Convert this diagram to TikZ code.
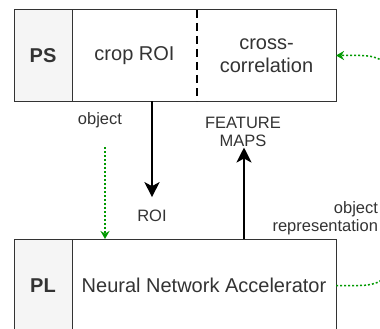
\documentclass[tikz,border=0pt]{standalone}
\usepackage{fontspec}
\setmainfont{Liberation Sans}
\usetikzlibrary{arrows.meta,positioning,calc}
\definecolor{sidecolor}{RGB}{245,245,245}
\definecolor{textcolor}{RGB}{51,51,51}
\definecolor{flowcolor}{RGB}{0,153,0}

\begin{document}
\begin{tikzpicture}[
    x=1pt, y=-1pt,
    every node/.style={text=textcolor, inner sep=1pt, outer sep=0pt},
    side/.style={rectangle, fill=sidecolor, draw=black!80, line width=1pt, minimum width=58pt, minimum height=91pt, font=\fontsize{20}{23}\selectfont\bfseries},
    cell/.style={rectangle, minimum height=91pt, align=center, font=\fontsize{20}{23}\selectfont},
    tag/.style={align=center, font=\fontsize{16.5}{17.5}\selectfont},
    arrow/.style={-{Stealth[length=15pt,width=15pt,inset=4pt]}, line width=2.5pt, black},
    flow/.style={-{Stealth[length=8pt,width=9pt]}, flowcolor, line width=1.5pt, dash pattern=on 2pt off 2pt}
]
\useasboundingbox (0,0) rectangle (380,329);
\clip (0,0) rectangle (380,329);

% PS row
\node[side] (ps) at (43,55.5) {PS};
\node[cell, minimum width=125pt, right=0pt of ps] (crop) {crop ROI};
\node[cell, minimum width=139pt, right=0pt of crop] (xcorr) {cross-\\correlation};
\draw[line width=1pt, black!80] (crop.north west) rectangle (xcorr.south east);
\draw[line width=2.5pt, dash pattern=on 8pt off 5pt] (crop.north east) -- (crop.south east);

% PL row
\node[side, minimum height=93pt] (pl) at (43,285.5) {PL};
\node[cell, draw=black!80, line width=1pt, minimum width=264pt, minimum height=93pt, right=0pt of pl] (nna) {Neural Network Accelerator};

% labels between the rows
\node[tag] (obj) at (100,120) {object};
\node[tag] (roi) at (152,216) {ROI};
\node[tag] (feat) at (243,132) {FEATURE\\MAPS};
\node[tag, align=right, anchor=east] (objrep) at (379,218) {object\\representation};

% data paths
\draw[arrow] (roi |- crop.south) -- ([yshift=12pt]roi.north);
\draw[arrow] ([xshift=1pt]feat.south |- nna.north) -- ([xshift=1pt]feat.south);

% object input
\coordinate (objtop) at (105,147);
\draw[flow] (objtop) -- (objtop |- nna.north);

% loop from accelerator back to cross-correlation
\draw[flow] (nna.east) -- (360,285.5) .. controls (375,285.5) and (392,280) .. (392,260)
    -- (392,80) .. controls (392,60) and (375,55.5) .. (360,55.5) -- (xcorr.east);

\end{tikzpicture}
\end{document}
